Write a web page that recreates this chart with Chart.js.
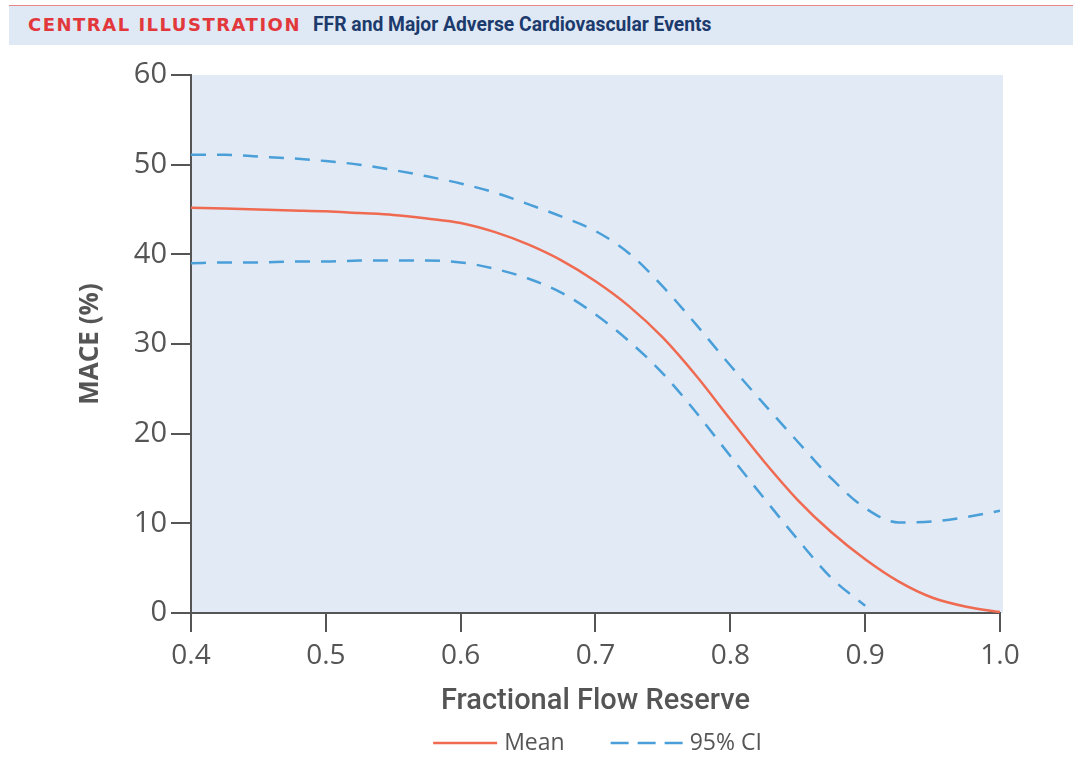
<!DOCTYPE html>
<html>
<head>
<meta charset="utf-8">
<script src="https://cdn.jsdelivr.net/npm/chart.js@4/dist/chart.umd.min.js"></script>
<style>
  html, body { margin: 0; padding: 0; background: #ffffff; }
  #wrap { position: relative; width: 1073px; height: 763px; overflow: hidden; }
  #hdr { position: absolute; left: 9px; top: 5px; width: 1064px; height: 40px;
         background: #dfe9f5; border-top: 1.5px solid #e8868a; box-sizing: border-box; }
  #hdr .a { position: absolute; left: 19px; top: 8px; font-family: "DejaVu Sans", sans-serif;
            font-weight: bold; font-size: 18px; letter-spacing: 1.5px; color: #e2383c; }
  #hdr .b { position: absolute; left: 304px; top: 7px; font-family: "Roboto", sans-serif;
            font-weight: bold; font-size: 19.3px; color: #1c3a6c; letter-spacing: 0px; }
  canvas { position: absolute; left: 0; top: 0; }
</style>
</head>
<body>
<div id="wrap">
  <div id="hdr"><span class="a">CENTRAL ILLUSTRATION</span><span class="b">FFR and Major Adverse Cardiovascular Events</span></div>
  <canvas id="c" width="1073" height="763"></canvas>
</div>
<script>
// ---- data ----
const ffr      = [0.400, 0.425, 0.450, 0.475, 0.500, 0.525, 0.550, 0.575, 0.600, 0.625, 0.650, 0.675, 0.700, 0.725, 0.750, 0.775, 0.800, 0.825, 0.850, 0.875, 0.900, 0.925, 0.950, 0.975, 1.000];
const meanMACE = [45.2, 45.1, 45.0, 44.9, 44.8, 44.6, 44.4, 44.0, 43.5, 42.5, 41.1, 39.3, 37.0, 34.2, 30.7, 26.4, 21.6, 16.9, 12.6, 9.0, 6.0, 3.5, 1.7, 0.7, 0.1];
const upperCI  = [51.1, 51.1, 50.9, 50.7, 50.4, 50.0, 49.4, 48.7, 47.9, 46.9, 45.6, 44.2, 42.6, 40.1, 36.4, 32.1, 27.6, 23.3, 19.1, 15.0, 11.7, 10.1, 10.2, 10.7, 11.4];
const lowerCI  = [39.0, 39.1, 39.1, 39.2, 39.2, 39.3, 39.3, 39.3, 39.1, 38.4, 37.3, 35.7, 33.3, 30.3, 26.7, 22.3, 17.5, 12.8, 8.2, 3.9, 0.8, null, null, null, null];
const xTicks   = [0.4, 0.5, 0.6, 0.7, 0.8, 0.9, 1.0];
const yTicks   = [0, 10, 20, 30, 40, 50, 60];
const seriesNames = ['Mean', '95% CI'];
const xTitle = 'Fractional Flow Reserve';
const yTitle = 'MACE (%)';

const toPts = (ys) => ffr.map((x, i) => ({ x: x, y: ys[i] })).filter(p => p.y !== null);

const RED = '#ef6a50';
const BLUE = '#4a9fd9';
const AXIS = '#555555';

const plotBg = {
  id: 'plotBg',
  beforeDraw(chart) {
    const { ctx, chartArea: a } = chart;
    ctx.save();
    ctx.fillStyle = '#e1eaf5';
    ctx.fillRect(a.left, a.top, a.right - a.left + 3, a.bottom - a.top);
    ctx.restore();
  }
};

const customLegend = {
  id: 'customLegend',
  afterDraw(chart) {
    const { ctx, chartArea: a } = chart;
    const y = 743;
    const items = [
      { text: seriesNames[0], color: RED, dash: [], width: 2.5, line: 64 },
      { text: seriesNames[1], color: BLUE, dash: [18, 9], width: 2.5, line: 72 }
    ];
    ctx.save();
    ctx.font = '23px "Open Sans", sans-serif';
    const gapLT = 7, gapItems = 46;
    let total = 0;
    items.forEach((it, i) => {
      it.tw = ctx.measureText(it.text).width;
      total += it.line + gapLT + it.tw + (i ? gapItems : 0);
    });
    let x = (a.left + a.right) / 2 - total / 2 + 2;
    items.forEach((it) => {
      ctx.strokeStyle = it.color;
      ctx.lineWidth = it.width;
      ctx.setLineDash(it.dash);
      ctx.beginPath();
      ctx.moveTo(x, y);
      ctx.lineTo(x + it.line, y);
      ctx.stroke();
      ctx.setLineDash([]);
      ctx.fillStyle = '#555555';
      ctx.textBaseline = 'middle';
      ctx.textAlign = 'left';
      ctx.fillText(it.text, x + it.line + gapLT, y);
      x += it.line + gapLT + it.tw + gapItems;
    });
    ctx.restore();
  }
};

new Chart(document.getElementById('c'), {
  type: 'line',
  data: {
    datasets: [
      { label: seriesNames[0], data: toPts(meanMACE), borderColor: RED, borderWidth: 2.5,
        pointRadius: 0, cubicInterpolationMode: 'monotone', fill: false, order: 0 },
      { label: seriesNames[1], data: toPts(upperCI), borderColor: BLUE, borderWidth: 2.5,
        borderDash: [15, 11], pointRadius: 0, cubicInterpolationMode: 'monotone', fill: false, order: 1 },
      { label: seriesNames[1] + ' lower', data: toPts(lowerCI), borderColor: BLUE, borderWidth: 2.5,
        borderDash: [15, 11], pointRadius: 0, cubicInterpolationMode: 'monotone', fill: false, order: 1 }
    ]
  },
  options: {
    responsive: false,
    animation: false,
    layout: { padding: { left: 0, top: 75, right: 73, bottom: 0 } },
    plugins: { legend: { display: false }, tooltip: { enabled: false } },
    scales: {
      x: {
        type: 'linear', min: xTicks[0], max: xTicks[xTicks.length - 1],
        afterBuildTicks: (s) => { s.ticks = xTicks.map(v => ({ value: v })); },
        afterFit: (s) => { s.height = 150; },
        ticks: { autoSkip: false, maxRotation: 0, padding: 7, color: AXIS,
                 font: { family: '"Open Sans", sans-serif', size: 28 },
                 callback: (v) => Number(v).toFixed(1) },
        grid: { drawOnChartArea: false, drawTicks: true, tickLength: 19, color: AXIS, lineWidth: 2 },
        border: { display: true, color: AXIS, width: 2 },
        title: { display: true, text: xTitle, color: AXIS,
                 font: { family: 'Roboto, sans-serif', size: 29, weight: '500' },
                 padding: { top: 0, bottom: 44 } }
      },
      y: {
        min: yTicks[0], max: yTicks[yTicks.length - 1],
        afterBuildTicks: (s) => { s.ticks = yTicks.map(v => ({ value: v })); },
        afterFit: (s) => { s.width = 191; },
        ticks: { padding: 4, color: AXIS, font: { family: '"Open Sans", sans-serif', size: 29 } },
        grid: { drawOnChartArea: false, drawTicks: true, tickLength: 20, color: AXIS, lineWidth: 2 },
        border: { display: true, color: AXIS, width: 2 },
        title: { display: true, text: yTitle, color: AXIS,
                 font: { family: '"Open Sans", sans-serif', size: 26, weight: 'bold' },
                 padding: { top: 75, bottom: 0 } }
      }
    }
  },
  plugins: [plotBg, customLegend]
});
</script>
</body>
</html>
